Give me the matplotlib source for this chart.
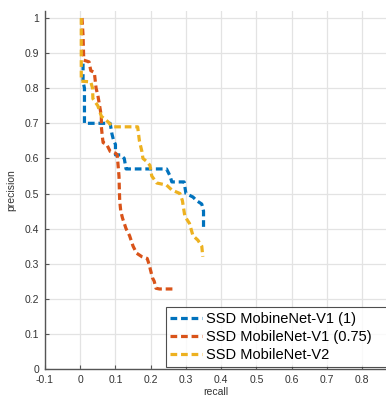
import matplotlib
matplotlib.use("Agg")
import matplotlib.pyplot as plt

plt.rcParams['font.family'] = ['Liberation Sans', 'DejaVu Sans']

# precision / recall
v1_recall = [0.008, 0.008, 0.012, 0.012, 0.085, 0.09, 0.095, 0.10, 0.10, 0.115, 0.125, 0.13,
             0.245, 0.255, 0.26, 0.295, 0.30, 0.32, 0.33, 0.345, 0.35, 0.35]
v1_precision = [0.87, 0.82, 0.80, 0.70, 0.70, 0.67, 0.65, 0.64, 0.61, 0.61, 0.60, 0.57,
                0.57, 0.55, 0.533, 0.533, 0.50, 0.49, 0.48, 0.47, 0.45, 0.405]

v1s_recall = [0.005, 0.008, 0.01, 0.025, 0.03, 0.04, 0.045, 0.05, 0.055, 0.06, 0.06, 0.063,
              0.065, 0.075, 0.085, 0.10, 0.105, 0.11, 0.112, 0.115, 0.12, 0.13, 0.14, 0.15,
              0.16, 0.175, 0.19, 0.195, 0.20, 0.205, 0.21, 0.215, 0.225, 0.265]
v1s_precision = [1.0, 0.95, 0.88, 0.875, 0.85, 0.845, 0.80, 0.78, 0.75, 0.72, 0.69, 0.66,
                 0.645, 0.64, 0.62, 0.615, 0.61, 0.55, 0.48, 0.45, 0.43, 0.40, 0.38, 0.35,
                 0.33, 0.32, 0.315, 0.30, 0.28, 0.26, 0.25, 0.23, 0.228, 0.228]

v2_recall = [0.003, 0.003, 0.03, 0.035, 0.036, 0.05, 0.06, 0.078, 0.092, 0.163, 0.168, 0.175,
             0.178, 0.19, 0.198, 0.203, 0.217, 0.245, 0.26, 0.283, 0.29, 0.297, 0.31, 0.32,
             0.334, 0.345, 0.348]
v2_precision = [1.0, 0.82, 0.818, 0.80, 0.77, 0.75, 0.72, 0.705, 0.69, 0.69, 0.65, 0.62,
                0.60, 0.59, 0.58, 0.55, 0.53, 0.524, 0.51, 0.50, 0.48, 0.435, 0.415, 0.38,
                0.367, 0.35, 0.32]

labels = ['SSD MobineNet-V1 (1)', 'SSD MobileNet-V1 (0.75)', 'SSD MobileNet-V2']
colors = ['#0072BD', '#D95319', '#EDB120']

fig = plt.figure(figsize=(3.86, 3.99), dpi=100)
ax = fig.add_axes([45 / 386, 30 / 399, 1 - 45 / 386, 358 / 399])

series = [(v1_recall, v1_precision), (v1s_recall, v1s_precision), (v2_recall, v2_precision)]
for (r, p), lab, c in zip(series, labels, colors):
    ax.plot(r, p, color=c, linewidth=2.3, dashes=(2.1, 1.2), label=lab)

ax.set_xlim(-0.1, 0.868)
ax.set_ylim(0, 1.02)
ax.set_xticks([-0.1, 0, 0.1, 0.2, 0.3, 0.4, 0.5, 0.6, 0.7, 0.8])
ax.set_xticklabels(['-0.1', '0', '0.1', '0.2', '0.3', '0.4', '0.5', '0.6', '0.7', '0.8'])
ax.set_yticks([0, 0.1, 0.2, 0.3, 0.4, 0.5, 0.6, 0.7, 0.8, 0.9, 1])
ax.set_yticklabels(['0', '0.1', '0.2', '0.3', '0.4', '0.5', '0.6', '0.7', '0.8', '0.9', '1'])

ax.grid(True, color='#e3e3e3', linewidth=0.9)
ax.set_axisbelow(True)
ax.spines['top'].set_visible(False)
ax.spines['right'].set_visible(False)
for s in ['left', 'bottom']:
    ax.spines[s].set_color('#555555')
    ax.spines[s].set_linewidth(1.0)
ax.tick_params(direction='in', length=3, width=0.8, color='#555555',
               labelsize=7.5, labelcolor='#333333', pad=4)

ax.set_xlabel('recall', fontsize=7.5, color='#333333', labelpad=2)
ax.set_ylabel('precision', fontsize=7.5, color='#333333', labelpad=6)

leg = ax.legend(loc='lower left', bbox_to_anchor=(0.354, 0.006, 0.66, 0.17), mode='expand',
                fontsize=10.5, frameon=True, fancybox=False, handlelength=2.2,
                handletextpad=0.25, labelspacing=0.3, borderpad=0.3, borderaxespad=0)
leg.get_frame().set_edgecolor('#222222')
leg.get_frame().set_linewidth(0.8)

fig.savefig('out.png', dpi=100)
